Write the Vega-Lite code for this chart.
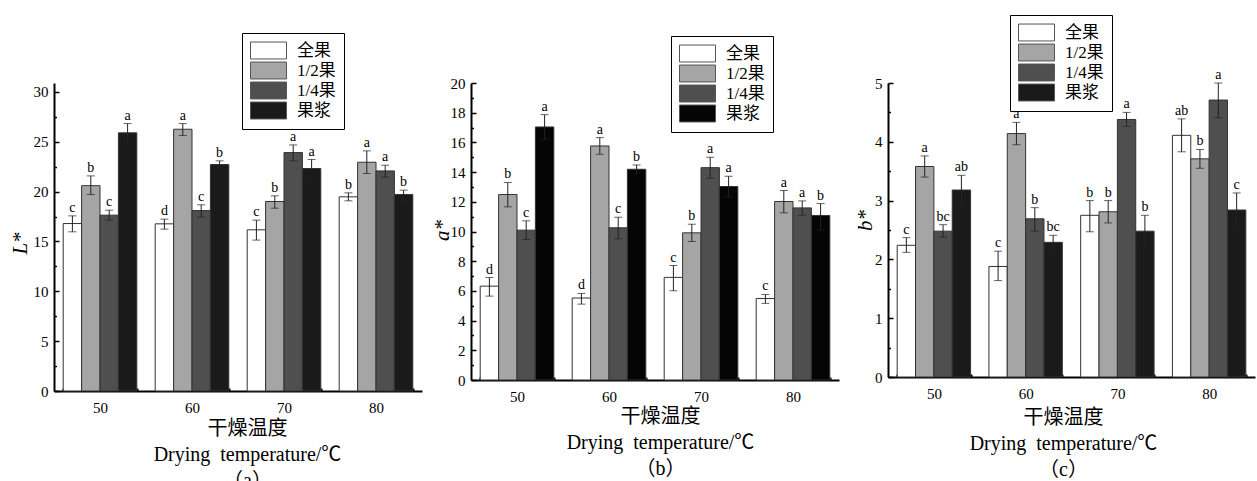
{
  "$schema": "https://vega.github.io/schema/vega-lite/v6.json",
  "autosize": {"type": "none"},
  "padding": {"left": 54, "top": 83, "right": 1203, "bottom": 398},
  "background": "white",
  "datasets": {
    "A": [
      {"t": "50", "g": "全果", "v": 16.8, "lo": 15.97, "hi": 17.57, "s": "c"},
      {"t": "50", "g": "1/2果", "v": 20.6, "lo": 19.71, "hi": 21.58, "s": "b"},
      {"t": "50", "g": "1/4果", "v": 17.64, "lo": 17.14, "hi": 18.14, "s": "c"},
      {"t": "50", "g": "果浆", "v": 25.9, "lo": 24.89, "hi": 26.83, "s": "a"},
      {"t": "60", "g": "全果", "v": 16.77, "lo": 16.24, "hi": 17.24, "s": "d"},
      {"t": "60", "g": "1/2果", "v": 26.26, "lo": 25.63, "hi": 26.83, "s": "a"},
      {"t": "60", "g": "1/4果", "v": 18.1, "lo": 17.47, "hi": 18.68, "s": "c"},
      {"t": "60", "g": "果浆", "v": 22.72, "lo": 22.39, "hi": 23.09, "s": "b"},
      {"t": "70", "g": "全果", "v": 16.17, "lo": 15.14, "hi": 17.14, "s": "c"},
      {"t": "70", "g": "1/2果", "v": 19.01, "lo": 18.34, "hi": 19.58, "s": "b"},
      {"t": "70", "g": "1/4果", "v": 23.92, "lo": 23.09, "hi": 24.69, "s": "a"},
      {"t": "70", "g": "果浆", "v": 22.32, "lo": 21.32, "hi": 23.22, "s": "a"},
      {"t": "80", "g": "全果", "v": 19.48, "lo": 19.08, "hi": 19.88, "s": "b"},
      {"t": "80", "g": "1/2果", "v": 22.95, "lo": 21.82, "hi": 24.09, "s": "a"},
      {"t": "80", "g": "1/4果", "v": 22.08, "lo": 21.48, "hi": 22.65, "s": "a"},
      {"t": "80", "g": "果浆", "v": 19.71, "lo": 19.08, "hi": 20.15, "s": "b"}
    ],
    "B": [
      {"t": "50", "g": "全果", "v": 6.32, "lo": 5.65, "hi": 6.9, "s": "d"},
      {"t": "50", "g": "1/2果", "v": 12.49, "lo": 11.66, "hi": 13.3, "s": "b"},
      {"t": "50", "g": "1/4果", "v": 10.09, "lo": 9.46, "hi": 10.72, "s": "c"},
      {"t": "50", "g": "果浆", "v": 17.04, "lo": 16.19, "hi": 17.87, "s": "a"},
      {"t": "60", "g": "全果", "v": 5.52, "lo": 5.11, "hi": 5.83, "s": "d"},
      {"t": "60", "g": "1/2果", "v": 15.76, "lo": 15.2, "hi": 16.32, "s": "a"},
      {"t": "60", "g": "1/4果", "v": 10.25, "lo": 9.51, "hi": 10.96, "s": "c"},
      {"t": "60", "g": "果浆", "v": 14.19, "lo": 13.9, "hi": 14.48, "s": "b"},
      {"t": "70", "g": "全果", "v": 6.91, "lo": 6.01, "hi": 7.71, "s": "c"},
      {"t": "70", "g": "1/2果", "v": 9.91, "lo": 9.33, "hi": 10.49, "s": "b"},
      {"t": "70", "g": "1/4果", "v": 14.3, "lo": 13.59, "hi": 15.0, "s": "a"},
      {"t": "70", "g": "果浆", "v": 13.03, "lo": 12.33, "hi": 13.72, "s": "a"},
      {"t": "80", "g": "全果", "v": 5.49, "lo": 5.16, "hi": 5.76, "s": "c"},
      {"t": "80", "g": "1/2果", "v": 12.02, "lo": 11.26, "hi": 12.76, "s": "a"},
      {"t": "80", "g": "1/4果", "v": 11.59, "lo": 11.1, "hi": 12.06, "s": "a"},
      {"t": "80", "g": "果浆", "v": 11.08, "lo": 10.1, "hi": 11.88, "s": "b"}
    ],
    "C": [
      {"t": "50", "g": "全果", "v": 2.24, "lo": 2.12, "hi": 2.37, "s": "c"},
      {"t": "50", "g": "1/2果", "v": 3.58, "lo": 3.4, "hi": 3.76, "s": "a"},
      {"t": "50", "g": "1/4果", "v": 2.48, "lo": 2.38, "hi": 2.59, "s": "bc"},
      {"t": "50", "g": "果浆", "v": 3.18, "lo": 2.93, "hi": 3.43, "s": "ab"},
      {"t": "60", "g": "全果", "v": 1.88, "lo": 1.64, "hi": 2.14, "s": "c"},
      {"t": "60", "g": "1/2果", "v": 4.14, "lo": 3.95, "hi": 4.33, "s": "a"},
      {"t": "60", "g": "1/4果", "v": 2.69, "lo": 2.48, "hi": 2.88, "s": "b"},
      {"t": "60", "g": "果浆", "v": 2.29, "lo": 2.16, "hi": 2.41, "s": "bc"},
      {"t": "70", "g": "全果", "v": 2.75, "lo": 2.47, "hi": 3.0, "s": "b"},
      {"t": "70", "g": "1/2果", "v": 2.81, "lo": 2.62, "hi": 3.0, "s": "b"},
      {"t": "70", "g": "1/4果", "v": 4.38, "lo": 4.26, "hi": 4.5, "s": "a"},
      {"t": "70", "g": "果浆", "v": 2.48, "lo": 2.21, "hi": 2.75, "s": "b"},
      {"t": "80", "g": "全果", "v": 4.11, "lo": 3.83, "hi": 4.39, "s": "ab"},
      {"t": "80", "g": "1/2果", "v": 3.71, "lo": 3.55, "hi": 3.87, "s": "b"},
      {"t": "80", "g": "1/4果", "v": 4.71, "lo": 4.41, "hi": 5.0, "s": "a"},
      {"t": "80", "g": "果浆", "v": 2.84, "lo": 2.55, "hi": 3.13, "s": "c"}
    ]
  },
  "spacing": 49,
  "bounds": "flush",
  "resolve": {
    "scale": {"color": "independent", "y": "independent", "x": "independent", "xOffset": "independent"},
    "legend": {"color": "independent"}
  },
  "hconcat": [
    {
      "width": 368,
      "height": 308,
      "data": {"name": "A"},
      "resolve": {"axis": {"y": "independent"}},
      "encoding": {
        "x": {"field": "t", "type": "ordinal", "scale": {"paddingInner": 0.2, "paddingOuter": 0.1},
          "axis": {"title": ["干燥温度", "Drying\u00a0 temperature/℃", "（a）"], "labelAngle": 0, "tickBand": "extent", "tickSize": -3, "labelPadding": 12,
            "domainColor": "#000000", "domainWidth": 2, "tickColor": "#000000", "tickWidth": 2,
            "labelFont": "Liberation Serif", "labelFontSize": 15, "labelColor": "#000000",
            "titleFont": "Liberation Serif, Noto Sans CJK SC", "titleColor": "#000000", "titleFontWeight": "normal",
            "titleX": 193, "titleY": 27, "titleBaseline": "top", "titleAlign": "center", "titleAngle": 0, "titleFontSize": 20, "titleLineHeight": 26}},
        "xOffset": {"field": "g", "type": "nominal", "sort": ["全果", "1/2果", "1/4果", "果浆"]}
      },
      "layer": [
        {"mark": {"type": "bar", "stroke": "#333", "strokeWidth": 1},
          "encoding": {
            "y": {"field": "v", "type": "quantitative", "scale": {"domain": [0, 30.9], "nice": false},
              "axis": {"orient": "left", "title": "L*", "values": [0, 5, 10, 15, 20, 25, 30], "tickSize": -5,
                "domainColor": "#000000", "domainWidth": 2, "tickColor": "#000000", "tickWidth": 1.5,
                "labelFont": "Liberation Serif", "labelFontSize": 15, "labelColor": "#000000",
                "titleFont": "Liberation Serif", "titleColor": "#000000", "titleFontWeight": "normal",
                "labelPadding": 11, "titleX": -34, "titleY": 160, "titleAlign": "center", "titleBaseline": "middle", "titleFontStyle": "italic", "titleFontSize": 21}},
            "color": {"field": "g", "type": "nominal", "sort": ["全果", "1/2果", "1/4果", "果浆"],
              "scale": {"domain": ["全果", "1/2果", "1/4果", "果浆"], "range": ["#ffffff", "#a5a5a5", "#4f4f4f", "#1a1a1a"]},
              "legend": {"orient": "none", "legendX": 188, "legendY": -50, "title": null}}
          }},
        {"mark": {"type": "rule", "color": "#222", "strokeWidth": 1},
          "encoding": {"y": {"field": "lo", "type": "quantitative", "scale": {"domain": [0, 30.9], "nice": false},
            "axis": {"orient": "left", "title": null, "values": [2.5, 7.5, 12.5, 17.5, 22.5, 27.5], "labels": false, "domain": false, "tickSize": -2.5, "tickColor": "#000000", "tickWidth": 1.5}},
            "y2": {"field": "hi"}}},
        {"mark": {"type": "tick", "color": "#222", "size": 8, "thickness": 1},
          "encoding": {"y": {"field": "lo", "type": "quantitative", "scale": {"domain": [0, 30.9], "nice": false}, "axis": null}}},
        {"mark": {"type": "tick", "color": "#222", "size": 8, "thickness": 1},
          "encoding": {"y": {"field": "hi", "type": "quantitative", "scale": {"domain": [0, 30.9], "nice": false}, "axis": null}}},
        {"mark": {"type": "text", "dy": -4, "baseline": "alphabetic", "fontSize": 14, "color": "#000"},
          "encoding": {"y": {"field": "hi", "type": "quantitative", "scale": {"domain": [0, 30.9], "nice": false}, "axis": null}, "text": {"field": "s"}}}
      ]
    },
    {
      "width": 368,
      "height": 297,
      "data": {"name": "B"},
      "resolve": {"axis": {"y": "independent"}},
      "encoding": {
        "x": {"field": "t", "type": "ordinal", "scale": {"paddingInner": 0.2, "paddingOuter": 0.1},
          "axis": {"title": ["干燥温度", "Drying\u00a0 temperature/℃", "（b）"], "labelAngle": 0, "tickBand": "extent", "tickSize": -3, "labelPadding": 12,
            "domainColor": "#000000", "domainWidth": 2, "tickColor": "#000000", "tickWidth": 2,
            "labelFont": "Liberation Serif", "labelFontSize": 15, "labelColor": "#000000",
            "titleFont": "Liberation Serif, Noto Sans CJK SC", "titleColor": "#000000", "titleFontWeight": "normal",
            "titleX": 189, "titleY": 26, "titleBaseline": "top", "titleAlign": "center", "titleAngle": 0, "titleFontSize": 20, "titleLineHeight": 26}},
        "xOffset": {"field": "g", "type": "nominal", "sort": ["全果", "1/2果", "1/4果", "果浆"]}
      },
      "layer": [
        {"mark": {"type": "bar", "stroke": "#333", "strokeWidth": 1},
          "encoding": {
            "y": {"field": "v", "type": "quantitative", "scale": {"domain": [0, 20], "nice": false},
              "axis": {"orient": "left", "title": "a*", "values": [0, 2, 4, 6, 8, 10, 12, 14, 16, 18, 20], "tickSize": -5,
                "domainColor": "#000000", "domainWidth": 2, "tickColor": "#000000", "tickWidth": 1.5,
                "labelFont": "Liberation Serif", "labelFontSize": 15, "labelColor": "#000000",
                "titleFont": "Liberation Serif", "titleColor": "#000000", "titleFontWeight": "normal",
                "labelPadding": 11, "titleX": -29, "titleY": 147, "titleAlign": "center", "titleBaseline": "middle", "titleFontStyle": "italic", "titleFontSize": 21}},
            "color": {"field": "g", "type": "nominal", "sort": ["全果", "1/2果", "1/4果", "果浆"],
              "scale": {"domain": ["全果", "1/2果", "1/4果", "果浆"], "range": ["#ffffff", "#a5a5a5", "#4f4f4f", "#050505"]},
              "legend": {"orient": "none", "legendX": 200, "legendY": -47, "title": null}}
          }},
        {"mark": {"type": "rule", "color": "#222", "strokeWidth": 1},
          "encoding": {"y": {"field": "lo", "type": "quantitative", "scale": {"domain": [0, 20], "nice": false},
            "axis": {"orient": "left", "title": null, "values": [1, 3, 5, 7, 9, 11, 13, 15, 17, 19], "labels": false, "domain": false, "tickSize": -2.5, "tickColor": "#000000", "tickWidth": 1.5}},
            "y2": {"field": "hi"}}},
        {"mark": {"type": "tick", "color": "#222", "size": 8, "thickness": 1},
          "encoding": {"y": {"field": "lo", "type": "quantitative", "scale": {"domain": [0, 20], "nice": false}, "axis": null}}},
        {"mark": {"type": "tick", "color": "#222", "size": 8, "thickness": 1},
          "encoding": {"y": {"field": "hi", "type": "quantitative", "scale": {"domain": [0, 20], "nice": false}, "axis": null}}},
        {"mark": {"type": "text", "dy": -4, "baseline": "alphabetic", "fontSize": 14, "color": "#000"},
          "encoding": {"y": {"field": "hi", "type": "quantitative", "scale": {"domain": [0, 20], "nice": false}, "axis": null}, "text": {"field": "s"}}}
      ]
    },
    {
      "width": 367,
      "height": 294,
      "data": {"name": "C"},
      "resolve": {"axis": {"y": "independent"}},
      "encoding": {
        "x": {"field": "t", "type": "ordinal", "scale": {"paddingInner": 0.2, "paddingOuter": 0.1},
          "axis": {"title": ["干燥温度", "Drying\u00a0 temperature/℃", "（c）"], "labelAngle": 0, "tickBand": "extent", "tickSize": -3, "labelPadding": 12,
            "domainColor": "#000000", "domainWidth": 2, "tickColor": "#000000", "tickWidth": 2,
            "labelFont": "Liberation Serif", "labelFontSize": 15, "labelColor": "#000000",
            "titleFont": "Liberation Serif, Noto Sans CJK SC", "titleColor": "#000000", "titleFontWeight": "normal",
            "titleX": 175, "titleY": 30, "titleBaseline": "top", "titleAlign": "center", "titleAngle": 0, "titleFontSize": 20, "titleLineHeight": 26}},
        "xOffset": {"field": "g", "type": "nominal", "sort": ["全果", "1/2果", "1/4果", "果浆"]}
      },
      "layer": [
        {"mark": {"type": "bar", "stroke": "#333", "strokeWidth": 1},
          "encoding": {
            "y": {"field": "v", "type": "quantitative", "scale": {"domain": [0, 5], "nice": false},
              "axis": {"orient": "left", "title": "b*", "values": [0, 1, 2, 3, 4, 5], "tickSize": -5,
                "domainColor": "#000000", "domainWidth": 2, "tickColor": "#000000", "tickWidth": 1.5,
                "labelFont": "Liberation Serif", "labelFontSize": 15, "labelColor": "#000000",
                "titleFont": "Liberation Serif", "titleColor": "#000000", "titleFontWeight": "normal",
                "labelPadding": 11, "titleX": -23, "titleY": 137, "titleAlign": "center", "titleBaseline": "middle", "titleFontStyle": "italic", "titleFontSize": 21}},
            "color": {"field": "g", "type": "nominal", "sort": ["全果", "1/2果", "1/4果", "果浆"],
              "scale": {"domain": ["全果", "1/2果", "1/4果", "果浆"], "range": ["#ffffff", "#a5a5a5", "#4f4f4f", "#1a1a1a"]},
              "legend": {"orient": "none", "legendX": 122, "legendY": -68, "title": null}}
          }},
        {"mark": {"type": "rule", "color": "#222", "strokeWidth": 1},
          "encoding": {"y": {"field": "lo", "type": "quantitative", "scale": {"domain": [0, 5], "nice": false},
            "axis": {"orient": "left", "title": null, "values": [0.5, 1.5, 2.5, 3.5, 4.5], "labels": false, "domain": false, "tickSize": -2.5, "tickColor": "#000000", "tickWidth": 1.5}},
            "y2": {"field": "hi"}}},
        {"mark": {"type": "tick", "color": "#222", "size": 8, "thickness": 1},
          "encoding": {"y": {"field": "lo", "type": "quantitative", "scale": {"domain": [0, 5], "nice": false}, "axis": null}}},
        {"mark": {"type": "tick", "color": "#222", "size": 8, "thickness": 1},
          "encoding": {"y": {"field": "hi", "type": "quantitative", "scale": {"domain": [0, 5], "nice": false}, "axis": null}}},
        {"mark": {"type": "text", "dy": -4, "baseline": "alphabetic", "fontSize": 14, "color": "#000"},
          "encoding": {"y": {"field": "hi", "type": "quantitative", "scale": {"domain": [0, 5], "nice": false}, "axis": null}, "text": {"field": "s"}}}
      ]
    }
  ],
  "config": {
    "view": {"stroke": null},
    "font": "Liberation Serif",
    "axis": {"grid": false},
    "legend": {
      "strokeColor": "#000000",
      "fillColor": "#ffffff",
      "padding": 8,
      "labelFont": "Liberation Serif, Noto Sans CJK SC",
      "labelFontSize": 17,
      "labelColor": "#000000",
      "labelOffset": 19,
      "symbolOffset": 9,
      "symbolType": "M-2,-0.94H2V0.94H-2Z",
      "symbolSize": 324,
      "symbolStrokeColor": "#555555",
      "symbolStrokeWidth": 1,
      "rowPadding": -2
    },
    "text": {"font": "Liberation Serif"}
  }
}
